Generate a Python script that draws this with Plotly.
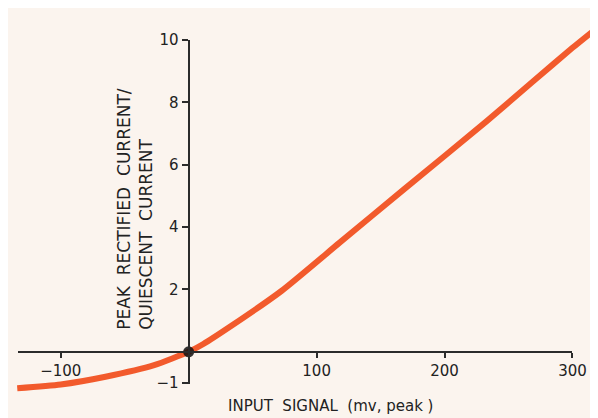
import plotly.graph_objects as go

# Curve: input signal (mv, peak) vs ratio
signal_mv = [-134, -100, -65, -27, 0, 11.5, 34, 72.5, 118, 168, 233, 270, 300, 315]
ratio = [-1.17, -1.05, -0.8, -0.43, 0, 0.25, 0.85, 1.95, 3.5, 5.2, 7.4, 8.7, 9.75, 10.25]

x_tick_vals = [-100, 100, 200, 300]
x_tick_text = ["\u2212100", "100", "200", "300"]
y_tick_vals = [-1, 2, 4, 6, 8, 10]
y_tick_text = ["\u22121", "2", "4", "6", "8", "10"]

W, H = 598, 418
BG = "#fbf4ee"
CURVE = "#f25a2c"
AX = "#2b2b2b"

# pixel geometry of the reference
x0_px, px_per_x = 185.0, 1.31      # x=0 at 185px, 1.31 px per mv
y0_px, px_per_y = 349.0, 32.5      # y=0 at 349px, 32.5 px per unit

def xv(px):
    return (px - x0_px) / px_per_x

def yv(py):
    return (y0_px - py) / px_per_y

fig = go.Figure()
fig.add_trace(go.Scatter(
    x=signal_mv, y=ratio, mode="lines", line=dict(color=CURVE, width=6, shape="spline", smoothing=0.6),
    xaxis="x", yaxis="y", hoverinfo="skip", showlegend=False))
fig.add_trace(go.Scatter(
    x=[0], y=[0], mode="markers", marker=dict(color="#111", size=11, opacity=0.85),
    xaxis="x2", yaxis="y2", cliponaxis=False, hoverinfo="skip", showlegend=False))

font = dict(family="DejaVu Sans", size=15, color="#222")

fig.update_layout(
    width=W, height=H, margin=dict(l=0, r=0, t=0, b=0),
    paper_bgcolor=BG, plot_bgcolor="rgba(0,0,0,0)",
    xaxis=dict(domain=[0, 1], range=[xv(0), xv(W)], visible=False),
    yaxis=dict(domain=[0, 1], range=[yv(H), yv(0)], visible=False),
    xaxis2=dict(domain=[10 / W, 578 / W], range=[xv(10), xv(578)], anchor="free",
                position=(H - y0_px) / H, showline=True, linecolor=AX, linewidth=2,
                showgrid=False, zeroline=False, ticks="outside", ticklen=5, tickwidth=1.5,
                tickcolor=AX, tickvals=x_tick_vals, ticktext=x_tick_text, tickfont=font),
    yaxis2=dict(domain=[(H - 383) / H, (H - 24) / H], range=[yv(383), yv(24)], anchor="free",
                position=x0_px / W, showline=True, linecolor=AX, linewidth=2,
                showgrid=False, zeroline=False, ticks="outside", ticklen=6, tickwidth=1.5,
                tickcolor=AX, tickvals=y_tick_vals, ticktext=y_tick_text, tickfont=font),
    annotations=[
        dict(text="PEAK  RECTIFIED  CURRENT/<br>QUIESCENT  CURRENT", textangle=-90,
             xref="paper", yref="paper", x=130 / W, y=(H - 200) / H,
             showarrow=False, font=dict(family="DejaVu Sans", size=17, color="#222"),
             align="left", xanchor="center", yanchor="middle"),
        dict(text="INPUT  SIGNAL  (mv, peak )", xref="paper", yref="paper",
             x=330 / W, y=(H - 406) / H, showarrow=False,
             font=dict(family="DejaVu Sans", size=15, color="#222"),
             xanchor="center", yanchor="middle"),
    ],
)

fig.write_html("out.html")
